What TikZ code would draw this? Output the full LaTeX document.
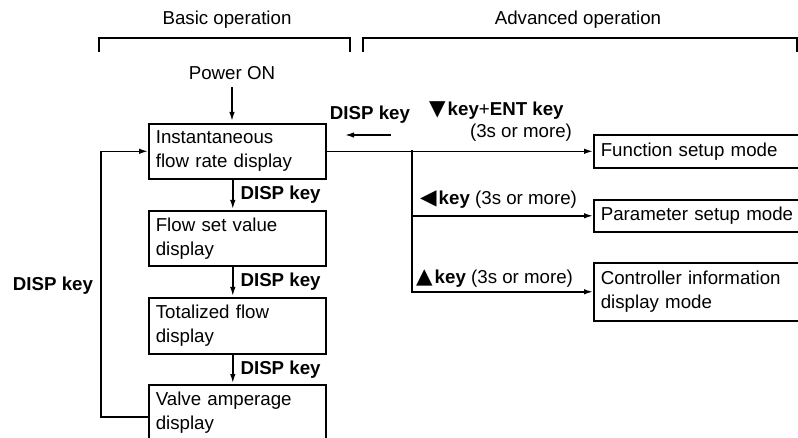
\documentclass[tikz,border=0pt]{standalone}
\usepackage{fontspec}
\setmainfont{Liberation Sans}
\newfontfamily\symfont[Scale=1.15]{DejaVu Sans}
\usetikzlibrary{arrows.meta,positioning}
\tikzset{
	modebox/.style={draw, line width=1.6pt, anchor=north west, align=left, inner sep=0pt, inner xsep=7pt},
	keylabel/.style={font=\fontsize{18.7}{22}\selectfont\bfseries, inner sep=0pt},
	flow/.style={line width=1.5pt, -{Latex[length=9pt,width=5.5pt]}},
	bracket/.style={line width=1.5pt},
}
\def\tri#1{{\symfont #1}\hspace{2pt}}

\begin{document}
\begin{tikzpicture}[x=1pt, y=-1pt, font=\fontsize{18.7}{24}\selectfont]
			%%%%% START %%%%%
			\useasboundingbox (0,0) rectangle (798,438);
			\clip (0,0) rectangle (798,438);
			
			% headings and brackets
			\node (basic) at (227,20) {Basic operation};
			\node (adv) at (578,20) {Advanced operation};
			\draw[bracket] (99,52) -- (99,38) -- (350,38) -- (350,52);
			\draw[bracket] (363,52) -- (363,38) -- (797,38) -- (797,52);
			
			% basic operation
			\node (power) at (232,73) {Power ON};
			\node[modebox, text width=163pt, minimum height=55pt] (inst) at (148,123) {Instantaneous\\flow rate display};
			\node[modebox, text width=163pt, minimum height=55pt] (setv) at (148,210) {Flow set value\\display};
			\node[modebox, text width=163pt, minimum height=56pt] (total) at (148,297) {Totalized flow\\display};
			\node[modebox, text width=163pt, minimum height=56pt] (valve) at (148,384) {Valve amperage\\display};
			
			\draw[flow, shorten <=4pt, shorten >=2pt] (power) -- (power |- inst.north);
			\draw[flow, shorten >=1pt] ([xshift=-4.5pt]inst.south) -- ([xshift=-4.5pt]setv.north)
				node[keylabel, midway, anchor=west, xshift=7pt] {DISP key};
			\draw[flow, shorten >=1pt] ([xshift=-4.5pt]setv.south) -- ([xshift=-4.5pt]total.north)
				node[keylabel, midway, anchor=west, xshift=7pt] {DISP key};
			\draw[flow, shorten >=1pt] ([xshift=-4.5pt]total.south) -- ([xshift=-4.5pt]valve.north)
				node[keylabel, midway, anchor=west, xshift=7pt] {DISP key};
			
			\draw[flow] ([yshift=-4pt]valve.west) -- ++(-47,0) |- (inst.west);
			\node[keylabel] (displeft) at (53,286) {DISP key};
			
			% advanced operation
			\node[modebox, text width=230pt, minimum height=33pt] (func) at (593,134) {Function setup mode};
			\node[modebox, text width=230pt, minimum height=32pt] (param) at (593,199) {Parameter setup mode};
			\node[modebox, text width=230pt, minimum height=58pt] (ctrl) at (593,262) {Controller information\\display mode};
			
			\draw[flow] (inst) -- (func);
			\coordinate (br) at (412,150.5);
			\draw[flow] (br) |- (param);
			\draw[flow] (br) |- (ctrl);
			
			\node[keylabel] (disptop) at (370,115) {DISP key};
			\coordinate (back1) at (391,135);
			\coordinate (back2) at (345,135);
			\draw[flow] (back1) -- (back2);
			
			\node[anchor=west, inner sep=0pt] (downent) at (429,111) {\tri{▼}\textbf{key}+\textbf{ENT key}};
			\node[inner sep=0pt] (downtime) at (521,133) {(3s or more)};
			\node[anchor=west, inner sep=0pt] (leftkey) at (420,200) {\tri{◀}\textbf{key} (3s or more)};
			\node[anchor=west, inner sep=0pt] (upkey) at (416,279) {\tri{▲}\textbf{key} (3s or more)};
			
			%%%%% END %%%%%
\end{tikzpicture}
\end{document}
